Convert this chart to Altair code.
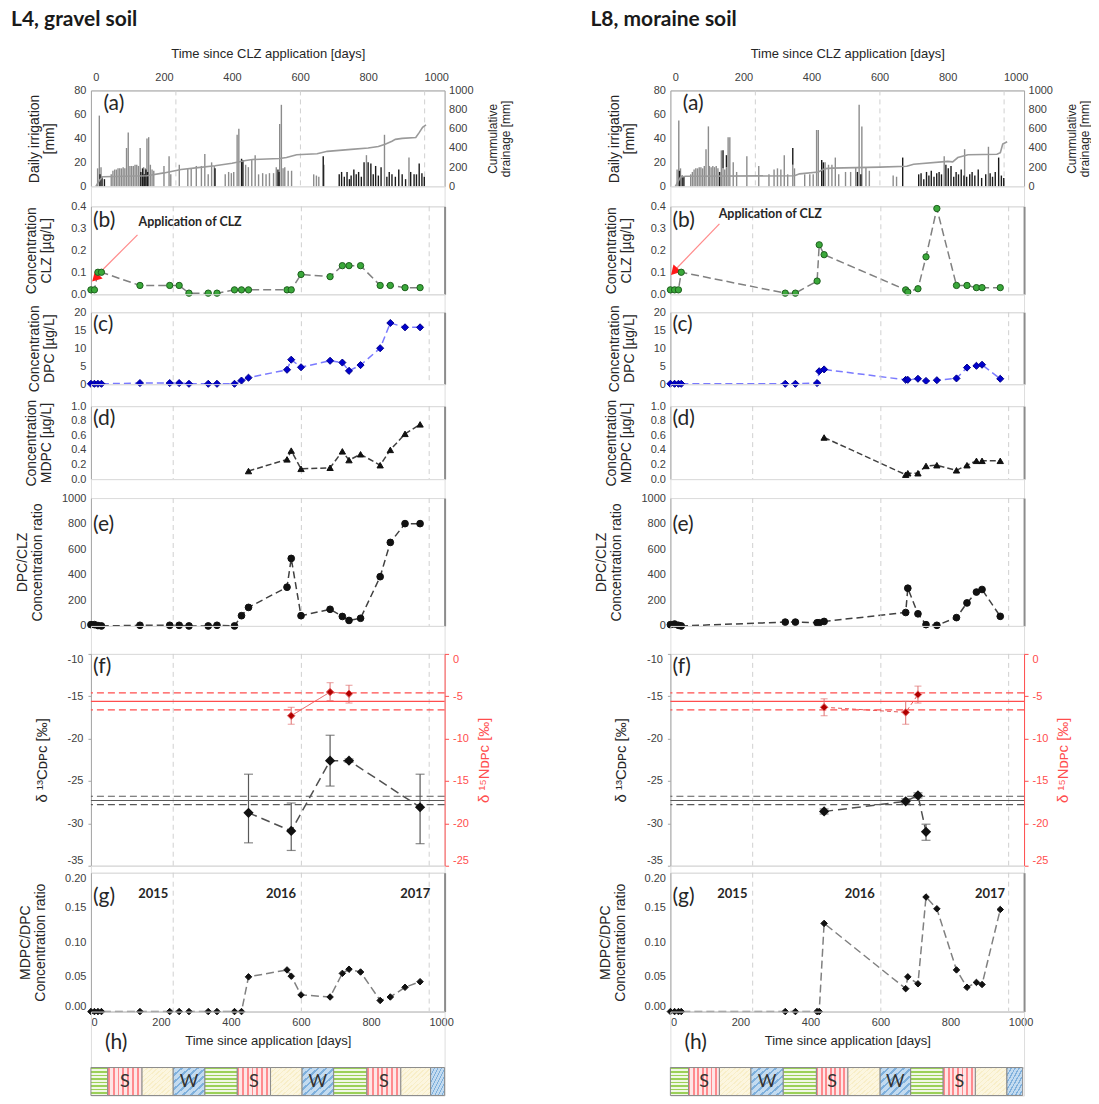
import altair as alt
import pandas as pd

# ======================= DATA =======================
YEAR_BOUNDS = [235, 601, 966]
DAY_TICKS = [0, 200, 400, 600, 800, 1000]

# ---- (a) L4 gravel soil ----
L4_irr_day = [5, 10, 15, 45, 50, 55, 60, 65, 70, 75, 80, 85, 90, 95, 100, 105, 110, 115, 120, 125, 130,
              140, 145, 150, 155, 160, 165, 170, 200, 215, 220, 245, 270, 280, 295, 310, 320, 330, 340, 348,
              380, 390, 398, 405, 415, 420, 440, 448, 458, 468, 478, 490, 500, 510, 522, 530,
              540, 545, 550, 555, 565, 575, 640, 648, 655, 670, 795, 848, 920]
L4_irr_mm = [15, 59, 16, 10, 13, 14, 14, 15, 15, 15, 16, 15, 32, 45, 17, 17, 17, 18, 18, 17, 32,
             16, 15, 40, 41, 18, 14, 13, 17, 25, 10, 18, 15, 15, 17, 17, 27, 10, 20, 17,
             10, 12, 11, 12, 43, 48, 18, 16, 22, 26, 10, 11, 10, 11, 11, 16,
             52, 68, 15, 16, 13, 13, 10, 9, 8, 18, 26, 43, 24]
L4_dark_day = [12, 18, 25, 132, 137, 142, 147, 152, 350, 428, 432, 535, 538, 668,
               715, 722, 730, 738, 745, 750, 758, 765, 772, 780, 788, 800, 808, 815, 822, 830, 838,
               855, 862, 870, 880, 890, 900, 910, 925, 935, 942, 950, 958, 965]
L4_dark_mm = [10, 8, 6, 12, 15, 10, 14, 12, 15, 23, 22, 14, 12, 25,
              10, 12, 8, 12, 6, 9, 14, 10, 12, 8, 20, 20, 19, 10, 17, 9, 16,
              8, 12, 10, 8, 14, 10, 6, 12, 10, 10, 19, 11, 8]
L4_drain_day = [0, 10, 20, 150, 200, 250, 300, 350, 400, 440, 460, 540, 560, 590, 650, 680, 750, 800,
                830, 850, 870, 880, 900, 940, 950, 960, 970]
L4_drain_mm = [0, 60, 100, 110, 140, 175, 195, 215, 240, 270, 280, 290, 300, 330, 340, 365, 385, 400,
               415, 440, 470, 490, 500, 510, 560, 615, 640]

# ---- (a) L8 moraine soil ----
L8_irr_day = [5, 10, 15, 45, 50, 55, 60, 65, 70, 75, 80, 85, 90, 97, 100, 105, 110, 115, 120, 125,
              135, 140, 145, 150, 155, 160, 170, 180, 210, 245, 275, 290, 300, 310, 320, 330, 345, 350,
              380, 395, 405, 415, 420, 440, 450, 460, 470, 480, 500, 515, 530, 540, 548, 560, 570,
              640, 650, 790, 850, 920]
L8_irr_mm = [14, 55, 15, 10, 12, 14, 15, 15, 16, 16, 15, 17, 31, 50, 17, 16, 17, 16, 17, 15,
             30, 15, 14, 16, 41, 41, 20, 12, 25, 17, 10, 14, 15, 14, 26, 10, 18, 15,
             10, 10, 10, 47, 47, 20, 18, 18, 24, 10, 12, 12, 16, 68, 50, 16, 13,
             9, 8, 25, 31, 33]
L8_dark_day = [12, 20, 25, 130, 140, 150, 345, 430, 435, 535, 545, 668,
               715, 722, 730, 738, 745, 752, 760, 768, 775, 782, 795, 802, 810, 818, 825, 832, 840, 848,
               856, 865, 872, 880, 890, 900, 912, 925, 932, 940, 950, 958, 965]
L8_dark_mm = [13, 9, 8, 12, 15, 10, 14, 22, 20, 12, 10, 24,
              10, 11, 6, 12, 9, 13, 8, 11, 12, 10, 18, 15, 17, 8, 12, 10, 14, 9,
              8, 10, 12, 9, 14, 7, 10, 11, 8, 12, 24, 9, 7]
L8_drain_day = [0, 15, 30, 350, 365, 420, 440, 460, 600, 680, 700, 800, 815, 830, 860, 945, 955, 962, 975]
L8_drain_mm = [0, 95, 105, 110, 130, 150, 185, 190, 200, 210, 230, 260, 255, 300, 330, 335, 350, 440, 465]

# ---- (b)-(e), (g) L4 ----
L4_days = [0, 10, 20, 30, 140, 225, 252, 280, 335, 360, 410, 430, 450, 560, 572, 600, 683, 718, 737, 770,
           826, 855, 897, 940]
L4_clz = [0.02, 0.02, 0.10, 0.10, 0.04, 0.04, 0.04, 0.005, 0.005, 0.005, 0.02, 0.02, 0.02, 0.02, 0.02,
          0.09, 0.08, 0.13, 0.13, 0.13, 0.04, 0.04, 0.03, 0.03]
L4_dpc = [0.1, 0.1, 0.1, 0.1, 0.3, 0.3, 0.3, 0.1, 0.1, 0.1, 0.1, 1.0, 1.8, 4.0, 6.8, 4.7, 6.5, 6.0, 3.7,
          5.3, 10.0, 17.0, 15.8, 15.8]
L4_dpc_clz = [10, 10, 3, 0, 5, 5, 5, 0, 0, 5, 0, 80, 145, 303, 528, 80, 130, 74, 43, 60, 385, 653, 800, 800]
L4_mdpc_dpc = [0, 0, 0, 0, 0, 0, 0, 0, 0, 0, 0, 0, 0.050, 0.060, 0.051, 0.024, 0.021, 0.055, 0.061,
               0.057, 0.016, 0.021, 0.035, 0.043]
L4_mdpc_day = [450, 560, 572, 600, 683, 718, 737, 770, 826, 855, 897, 940]
L4_mdpc = [0.11, 0.27, 0.39, 0.14, 0.155, 0.38, 0.26, 0.34, 0.19, 0.40, 0.62, 0.75]

# ---- (b)-(e), (g) L8 ----
L8_days = [0, 12, 23, 31, 328, 357, 419, 425, 439, 672, 678, 707, 730, 761, 817, 847, 874, 890, 942]
L8_clz = [0.02, 0.02, 0.02, 0.10, 0.005, 0.005, 0.06, 0.225, 0.18, 0.02, 0.01, 0.025, 0.17, 0.39,
          0.04, 0.04, 0.03, 0.03, 0.03]
L8_dpc = [0.1, 0.1, 0.1, 0.1, 0.1, 0.1, 0.3, 3.6, 4.1, 1.2, 1.2, 1.5, 0.9, 1.1, 1.6, 4.6, 5.1, 5.4, 1.5]
L8_dpc_clz = [10, 15, 5, 0, 30, 30, 25, 25, 35, 105, 295, 95, 10, 5, 65, 180, 265, 285, 75]
L8_mdpc_dpc = [0, 0, 0, 0, 0, 0, 0, 0, 0.127, 0.033, 0.05, 0.04, 0.165, 0.148, 0.06, 0.035, 0.042,
               0.039, 0.147]
L8_mdpc_day = [439, 672, 678, 707, 730, 761, 817, 847, 874, 890, 942]
L8_mdpc = [0.57, 0.06, 0.08, 0.08, 0.18, 0.19, 0.12, 0.19, 0.25, 0.25, 0.25]

# ---- (f) isotopes ----
L4_c13_day = [450, 572, 683, 737, 940]
L4_c13 = [-28.75, -30.9, -22.6, -22.6, -28.1]
L4_c13_lo = [-32.3, -33.2, -25.6, -22.8, -32.4]
L4_c13_hi = [-24.2, -27.6, -19.6, -22.4, -24.2]
L4_n15_day = [572, 683, 737]
L4_n15 = [-7.3, -4.5, -4.7]
L4_n15_lo = [-8.3, -5.5, -5.8]
L4_n15_hi = [-6.3, -3.4, -3.7]

L8_c13_day = [439, 672, 707, 730]
L8_c13 = [-28.6, -27.4, -26.7, -31.0]
L8_c13_lo = [-28.9, -27.7, -27.0, -32.0]
L8_c13_hi = [-28.3, -27.1, -26.4, -30.1]
L8_n15_day = [439, 672, 707]
L8_n15 = [-6.3, -6.9, -4.8]
L8_n15_lo = [-7.3, -8.3, -5.8]
L8_n15_hi = [-5.3, -5.6, -3.8]

C13_REF = [-27.3, -26.8, -27.8]
C13_REF_KIND = ["solid", "dash", "dash"]
N15_REF = [-5.6, -4.6, -6.6]
N15_REF_KIND = ["solid", "dash", "dash"]

# ---- (g) year labels ----
YEAR_TXT = ["2015", "2016", "2017"]
L4_year_day = [178, 543, 926]
L8_year_day = [177, 541, 913]

# ---- (h) seasons ----
SEASON_KIND = ["spring", "summer", "autumn", "winter"] * 3
SEASON_LABEL = ["", "S", "", "W", "", "S", "", "W", "", "S", "", ""]
L4_season_start = [0, 48, 146, 235, 325, 418, 513, 603, 693, 788, 885, 970]
L4_season_end = [48, 146, 235, 325, 418, 513, 603, 693, 788, 885, 970, 1010]
L8_season_start = [0, 52, 140, 230, 322, 417, 507, 599, 686, 779, 871, 961]
L8_season_end = [52, 140, 230, 322, 417, 507, 599, 686, 779, 871, 961, 1006]

# ======================= STYLE =======================
AXF = "Liberation Sans"
TAGF = "Lato"
LABC = "#404040"
TITC = "#262626"
AXC = "#a6a6a6"
W = 354
XDOM = [0, 1010]


def xsc():
    return alt.Scale(domain=XDOM, nice=False, zero=False)


def X(axis=None, field="day"):
    return alt.X(f"{field}:Q", scale=xsc(), axis=axis)


def ysc(dom):
    return alt.Scale(domain=dom, nice=False, zero=False)


def left_axis(title, values, fmt=None, pad=17, expr=None, ticks=False, size=14, flush=False):
    kw = dict(orient="left", title=title, values=values, labelFont=AXF, labelFontSize=11,
              labelColor=LABC, labelPadding=5, ticks=ticks, tickSize=3, tickColor=AXC,
              domainColor=AXC, titleFont=AXF, titleFontSize=size, titleFontWeight="normal",
              titleColor=TITC, titleLineHeight=15, titlePadding=pad, grid=False)
    if fmt:
        kw["format"] = fmt
    if expr:
        kw["labelExpr"] = expr
    if flush:
        kw["labelFlush"] = 3
    return alt.Axis(**kw)


def hidden_x():
    return alt.Axis(labels=False, ticks=False, title=None, domainColor="#d9d9d9", grid=False)


def year_rules(xa):
    return alt.Chart(pd.DataFrame({"day": YEAR_BOUNDS})).mark_rule(
        color="#d0d0d0", strokeDash=[5, 4], strokeWidth=1).encode(x=X(xa))


def tag(txt, day, val, scale, xa):
    return alt.Chart(pd.DataFrame({"day": [day], "v": [val], "t": [txt]})).mark_text(
        align="left", baseline="middle", font=TAGF, fontSize=21, color="#262626").encode(
        x=X(xa), y=alt.Y("v:Q", scale=scale, axis=None), text="t:N")


def right_frame(df, scale, xa):
    return alt.Chart(df).mark_point(opacity=0).encode(
        x=X(xa), y=alt.Y("v:Q", scale=scale,
                         axis=alt.Axis(orient="right", labels=False, ticks=False, title=None,
                                       domainColor="#8c8c8c", domainWidth=2, grid=False)))


def panel_a(irr_d, irr_m, dk_d, dk_m, dr_d, dr_m, title):
    bars = pd.DataFrame({"day": irr_d + dk_d, "mm": irr_m + dk_m,
                         "kind": ["irr"] * len(irr_d) + ["dark"] * len(dk_d)})
    drain = pd.DataFrame({"day": dr_d, "v": dr_m})
    s_bar = ysc([0, 80])
    xa = alt.Axis(orient="top", values=DAY_TICKS, format="d",
                  title="Time since CLZ application [days]",
                  labelFont=AXF, labelFontSize=11, labelColor=LABC, labelPadding=8, ticks=False,
                  domainColor=AXC, titleFont=AXF, titleFontSize=13, titleFontWeight="normal",
                  titleColor=TITC, titlePadding=11, grid=False)
    b = alt.Chart(bars).mark_bar(width=1.4).encode(
        x=X(xa),
        y=alt.Y("mm:Q", scale=s_bar, axis=left_axis(["Daily irrigation", "[mm]"], [0, 20, 40, 60, 80],
                                                   "d", pad=17)),
        color=alt.Color("kind:N", scale=alt.Scale(domain=["irr", "dark"], range=["#8c8c8c", "#1a1a1a"]),
                        legend=None))
    line = alt.Chart(drain).mark_line(color="#9a9a9a", strokeWidth=1.6).encode(
        x=X(xa),
        y=alt.Y("v:Q", scale=ysc([0, 1000]),
                axis=alt.Axis(orient="right", values=[0, 200, 400, 600, 800, 1000], format="d",
                              labelFont=AXF, labelFontSize=11, labelColor=LABC, labelPadding=4,
                              ticks=False, domainColor=AXC, title=["Cummulative", "drainage [mm]"],
                              titleFont=AXF, titleFontSize=12, titleFontWeight="normal",
                              titleColor=TITC, titleAngle=270, titleBaseline="top",
                              titleLineHeight=12.5, titlePadding=2, grid=False)))
    inner = alt.layer(year_rules(xa), tag("(a)", 22, 69, s_bar, xa))
    return alt.layer(inner, b, line).resolve_scale(y="independent").properties(
        width=W, height=96,
        title=alt.TitleParams(title, anchor="start", frame="group", dx=-80, offset=17, font=TAGF,
                              fontSize=21, fontWeight="bold", color="#1a1a1a"))


def series_panel(days, vals, h, ytitle, ydom, yticks, yfmt, lcolor, ldash, shape, fill, stroke,
                 size, tagtxt, tagy, xaxis=None, extras=(), flush=False):
    xa = xaxis if xaxis is not None else hidden_x()
    df = pd.DataFrame({"day": days, "v": vals})
    s = ysc(ydom)
    line = alt.Chart(df).mark_line(color=lcolor, strokeDash=ldash, strokeWidth=1.5).encode(
        x=X(xa), y=alt.Y("v:Q", scale=s, axis=left_axis(ytitle, yticks, yfmt, flush=flush)))
    pts = alt.Chart(df).mark_point(shape=shape, fill=fill, stroke=stroke, strokeWidth=1, size=size,
                                   opacity=1, fillOpacity=1).encode(
        x=X(xa), y=alt.Y("v:Q", scale=s, axis=None))
    inner_layers = [year_rules(xa)]
    for e in extras:
        inner_layers += e(s, xa)
    inner_layers += [pts, tag(tagtxt, 6, tagy, s, xa)]
    inner = alt.layer(*inner_layers)
    return alt.layer(line, inner, right_frame(df, s, xa)).resolve_scale(y="independent").properties(
        width=W, height=h)


def clz_annotation(tx, ty, ldays, lvals, tri_d, tri_v, ang):
    def build(s, xa):
        t = alt.Chart(pd.DataFrame({"day": [tx], "v": [ty], "t": ["Application of CLZ"]})).mark_text(
            align="left", baseline="middle", font=TAGF, fontWeight="bold", fontSize=12.5,
            color="#262626").encode(x=X(xa), y=alt.Y("v:Q", scale=s, axis=None), text="t:N")
        ln = alt.Chart(pd.DataFrame({"day": ldays, "v": lvals})).mark_line(
            color="#ff8a8a", strokeWidth=1.2).encode(x=X(xa), y=alt.Y("v:Q", scale=s, axis=None))
        tri = alt.Chart(pd.DataFrame({"day": [tri_d], "v": [tri_v]})).mark_point(
            shape="triangle-up", fill="#ff1a1a", stroke="#ff1a1a", opacity=1, fillOpacity=1,
            size=55, angle=ang).encode(x=X(xa), y=alt.Y("v:Q", scale=s, axis=None))
        return [ln, tri, t]
    return build


def year_labels(ydays):
    def build(s, xa):
        return [alt.Chart(pd.DataFrame({"day": ydays, "v": [0.17] * 3, "t": YEAR_TXT})).mark_text(
            font=TAGF, fontWeight="bold", fontSize=13, color="#262626", baseline="middle").encode(
            x=X(xa), y=alt.Y("v:Q", scale=s, axis=None), text="t:N")]
    return build


def err_layers(df, s, color, width, cap, xa):
    bar = alt.Chart(df).mark_rule(color=color, strokeWidth=width).encode(
        x=X(xa), y=alt.Y("lo:Q", scale=s, axis=None), y2="hi:Q")
    lo = alt.Chart(df).mark_tick(color=color, orient="horizontal", size=cap, thickness=width).encode(
        x=X(xa), y=alt.Y("lo:Q", scale=s, axis=None))
    hi = alt.Chart(df).mark_tick(color=color, orient="horizontal", size=cap, thickness=width).encode(
        x=X(xa), y=alt.Y("hi:Q", scale=s, axis=None))
    return [bar, lo, hi]


def panel_f(cd, cv, clo, chi, nd, nv, nlo, nhi, ndash):
    xa = hidden_x()
    s_c = ysc([-35, -10])
    s_n = ysc([-25, 0])
    cdf = pd.DataFrame({"day": cd, "v": cv, "lo": clo, "hi": chi})
    ndf = pd.DataFrame({"day": nd, "v": nv, "lo": nlo, "hi": nhi})
    cref = pd.DataFrame({"v": C13_REF, "k": C13_REF_KIND})
    nref = pd.DataFrame({"v": N15_REF, "k": N15_REF_KIND})
    red = "#ff4d4d"

    c_axis = left_axis("δ ¹³Cᴅᴘᴄ [‰]", [-35, -30, -25, -20, -15, -10], expr="'' + datum.value",
                       pad=18, ticks=True, size=15, flush=True)
    cline = alt.Chart(cdf).mark_line(color="#505050", strokeDash=[9, 5], strokeWidth=1.5).encode(
        x=X(xa), y=alt.Y("v:Q", scale=s_c, axis=c_axis))
    cref_s = alt.Chart(cref).transform_filter(alt.datum.k == "solid").mark_rule(
        color="#595959", strokeWidth=1.2).encode(y=alt.Y("v:Q", scale=s_c, axis=None))
    cref_d = alt.Chart(cref).transform_filter(alt.datum.k == "dash").mark_rule(
        color="#595959", strokeWidth=1.2, strokeDash=[7, 4]).encode(y=alt.Y("v:Q", scale=s_c, axis=None))
    cpts = alt.Chart(cdf).mark_point(shape="diamond", fill="#111111", stroke="#111111", opacity=1,
                                     fillOpacity=1, size=55).encode(
        x=X(xa), y=alt.Y("v:Q", scale=s_c, axis=None))
    black = alt.layer(*([year_rules(xa), cref_s, cref_d] + err_layers(cdf, s_c, "#595959", 1.2, 9, xa) +
                        [cpts, tag("(f)", 6, -11.6, s_c, xa)]))

    n_axis = alt.Axis(orient="right", values=[-25, -20, -15, -10, -5, 0], labelExpr="'' + datum.value",
                      labelFont=AXF, labelFontSize=11, labelColor=red, labelPadding=4, ticks=True,
                      tickSize=4, tickColor=red, domainColor=red, title="δ ¹⁵Nᴅᴘᴄ [‰]",
                      titleFont=AXF, titleFontSize=15, titleFontWeight="normal", titleColor=red,
                      titleAngle=270, titleBaseline="top", titlePadding=8, grid=False, labelFlush=3)
    nline = alt.Chart(ndf).mark_line(color="#e05555", strokeWidth=1, strokeDash=ndash).encode(
        x=X(xa), y=alt.Y("v:Q", scale=s_n, axis=n_axis))
    nref_s = alt.Chart(nref).transform_filter(alt.datum.k == "solid").mark_rule(
        color=red, strokeWidth=1.2).encode(y=alt.Y("v:Q", scale=s_n, axis=None))
    nref_d = alt.Chart(nref).transform_filter(alt.datum.k == "dash").mark_rule(
        color=red, strokeWidth=1.2, strokeDash=[7, 4]).encode(y=alt.Y("v:Q", scale=s_n, axis=None))
    npts = alt.Chart(ndf).mark_point(shape="diamond", fill="#b00000", stroke="#e06060", opacity=1,
                                     fillOpacity=1, strokeWidth=1, size=55).encode(
        x=X(xa), y=alt.Y("v:Q", scale=s_n, axis=None))
    redg = alt.layer(*([nref_s, nref_d] + err_layers(ndf, s_n, "#e07070", 1, 7, xa) + [npts]))
    return alt.layer(cline, black, nline, redg).resolve_scale(y="independent").properties(
        width=W, height=212)


def stripes(c_line, c_bg, n, frac, x1, y1, x2, y2):
    stops = []
    for i in range(n):
        a, b, c = i / n, (i + frac) / n, (i + 1) / n
        stops += [alt.GradientStop(offset=a, color=c_line), alt.GradientStop(offset=b, color=c_line),
                  alt.GradientStop(offset=b, color=c_bg), alt.GradientStop(offset=c, color=c_bg)]
    return alt.LinearGradient(gradient="linear", stops=stops, x1=x1, y1=y1, x2=x2, y2=y2)


SEASON_FILL = {
    "spring": stripes("#9bd058", "#f1f8e6", 8, 0.45, 0, 0, 0, 1),
    "summer": stripes("#ff8a8e", "#fde6e6", 7, 0.4, 0, 0, 1, 0),
    "autumn": stripes("#f8eec8", "#fcf6e0", 12, 0.3, 0, 0, 1, 1),
    "winter": stripes("#7fb0dc", "#c3dbf0", 8, 0.35, 0, 0, 1, 1),
}


def panel_h(starts, ends):
    df = pd.DataFrame({"s": starts, "e": ends, "k": SEASON_KIND, "lab": SEASON_LABEL})
    layers = []
    for k, fill in SEASON_FILL.items():
        layers.append(alt.Chart(df).transform_filter(alt.datum.k == k).mark_rect(
            fill=fill, stroke="#8c8c8c", strokeWidth=1).encode(x=X(field="s"), x2="e:Q"))
    txt = alt.Chart(df).transform_filter(alt.datum.lab != "").transform_calculate(
        day="(datum.s + datum.e) / 2").mark_text(font=TAGF, fontSize=18, color="#333333",
                                                  baseline="middle").encode(x=X(), text="lab:N")
    layers.append(txt)
    return alt.layer(*layers).properties(
        width=W, height=28,
        title=alt.TitleParams("(h)", anchor="start", frame="group", dx=14, offset=14, font=TAGF,
                              fontSize=21, fontWeight="normal", color="#262626"))


def spacer(h):
    return alt.Chart(pd.DataFrame({"z": [0]})).mark_point(opacity=0).encode(
        x=alt.X("z:Q", axis=None), y=alt.Y("z:Q", axis=None)).properties(width=W, height=h)


def bottom_axis():
    return alt.Axis(orient="bottom", values=DAY_TICKS, format="d", title="Time since application [days]",
                    labelFont=AXF, labelFontSize=11, labelColor=LABC, labelPadding=5, ticks=False,
                    domainColor=AXC, titleFont=AXF, titleFontSize=13, titleFontWeight="normal",
                    titleColor=TITC, titlePadding=7, grid=False)


def column(side):
    if side == "L4":
        a = panel_a(L4_irr_day, L4_irr_mm, L4_dark_day, L4_dark_mm, L4_drain_day, L4_drain_mm,
                    "L4, gravel soil")
        days, clz, dpc, rdc, rmd = L4_days, L4_clz, L4_dpc, L4_dpc_clz, L4_mdpc_dpc
        md_d, md_v = L4_mdpc_day, L4_mdpc
        ann = clz_annotation(136, 0.33, [133, 20], [0.27, 0.09], 14, 0.075, 225)
        f = panel_f(L4_c13_day, L4_c13, L4_c13_lo, L4_c13_hi, L4_n15_day, L4_n15, L4_n15_lo,
                    L4_n15_hi, [1, 0])
        yl = year_labels(L4_year_day)
        h = panel_h(L4_season_start, L4_season_end)
    else:
        a = panel_a(L8_irr_day, L8_irr_mm, L8_dark_day, L8_dark_mm, L8_drain_day, L8_drain_mm,
                    "L8, moraine soil")
        days, clz, dpc, rdc, rmd = L8_days, L8_clz, L8_dpc, L8_dpc_clz, L8_mdpc_dpc
        md_d, md_v = L8_mdpc_day, L8_mdpc
        ann = clz_annotation(138, 0.365, [140, 16], [0.32, 0.115], 12, 0.105, 223)
        f = panel_f(L8_c13_day, L8_c13, L8_c13_lo, L8_c13_hi, L8_n15_day, L8_n15, L8_n15_lo,
                    L8_n15_hi, [4, 3])
        yl = year_labels(L8_year_day)
        h = panel_h(L8_season_start, L8_season_end)

    b = series_panel(days, clz, 88, ["Concentration", "CLZ [µg/L]"], [0, 0.4], [0, 0.1, 0.2, 0.3, 0.4],
                     ".1f", "#808080", [8, 4], "circle", "#3aa83a", "#1d5e1d", 40, "(b)", 0.335,
                     extras=(ann,))
    c = series_panel(days, dpc, 72, ["Concentration", "DPC [µg/L]"], [0, 20], [0, 5, 10, 15, 20],
                     "d", "#7a7aff", [7, 4], "diamond", "#0000cc", "#00008b", 50, "(c)", 16.5)
    d = series_panel(md_d, md_v, 73, ["Concentration", "MDPC [µg/L]"], [0, 1],
                     [0, 0.2, 0.4, 0.6, 0.8, 1.0], ".1f", "#404040", [6, 3], "triangle-up", "#111111",
                     "#111111", 40, "(d)", 0.82)
    e = series_panel(days, rdc, 128, ["DPC/CLZ", "Concentration ratio"], [0, 1000],
                     [0, 200, 400, 600, 800, 1000], "d", "#404040", [7, 4], "circle", "#111111",
                     "#111111", 45, "(e)", 790)
    g = series_panel(days, rmd, 139, ["MDPC/DPC", "Concentration ratio"], [0, 0.2],
                     [0, 0.05, 0.1, 0.15, 0.2], ".2f", "#808080", [8, 4], "diamond", "#111111",
                     "#111111", 42, "(g)", 0.165, xaxis=bottom_axis(), extras=(yl,), flush=True)
    return [a, b, c, d, e, f, g, h]


GAPS = [20, 18, 22, 19, 28, 7, 56]
left = column("L4")
right = column("L8")
cells = []
for i in range(8):
    cells += [left[i], right[i]]
    if i < 7:
        cells += [spacer(GAPS[i]), spacer(GAPS[i])]

chart = alt.concat(*cells, columns=2, bounds="flush", align="each",
                   spacing={"row": 0, "column": 226}).properties(
    padding={"left": 2, "top": 0, "right": 0, "bottom": 0}
).configure_view(stroke=None).configure(font=AXF)

chart.save("out.html", embed_options={"renderer": "svg", "actions": False})
